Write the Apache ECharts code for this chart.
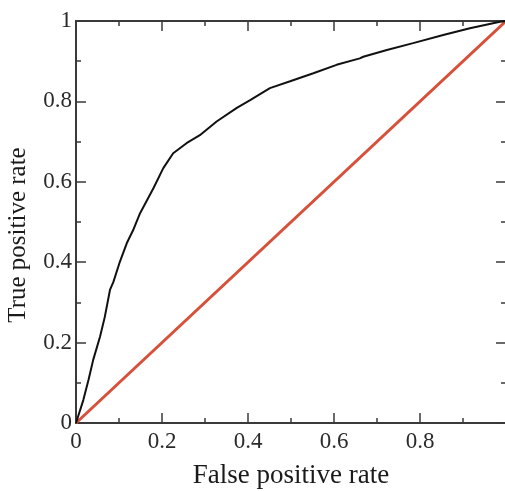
<!DOCTYPE html>
<html>
<head>
<meta charset="utf-8">
<title>ROC curve</title>
<script src="https://cdn.jsdelivr.net/npm/echarts@6/dist/echarts.min.js"></script>
<style>
  html, body { margin: 0; padding: 0; background: #fff; overflow: hidden; }
  #chart { width: 505px; height: 491px; }
</style>
</head>
<body>
<div id="chart"></div>
<script>
// ROC curve: false positive rate vs true positive rate
const fpr = [0, 0.017, 0.029, 0.040, 0.056, 0.067, 0.079, 0.087, 0.102, 0.118, 0.133,
  0.149, 0.180, 0.203, 0.226, 0.257, 0.288, 0.327, 0.374, 0.405, 0.451, 0.498,
  0.552, 0.606, 0.660, 0.668, 0.723, 0.784, 0.854, 0.916, 0.986, 1];
const tpr = [0, 0.057, 0.107, 0.157, 0.215, 0.264, 0.331, 0.351, 0.401, 0.447, 0.480,
  0.522, 0.584, 0.634, 0.671, 0.696, 0.716, 0.750, 0.784, 0.803, 0.833, 0.850,
  0.870, 0.891, 0.907, 0.911, 0.928, 0.945, 0.965, 0.982, 0.998, 1];
// chance line
const chanceX = [0, 1];
const chanceY = [0, 1];

const xTitle = 'False positive rate';
const yTitle = 'True positive rate';

const roc = fpr.map((v, i) => [v, tpr[i]]);
const chance = chanceX.map((v, i) => [v, chanceY[i]]);

const axisColor = '#3a3a3a';
const fontFamily = '"Liberation Serif", "Times New Roman", serif';

function frameAxis(extra) {
  return Object.assign({
    type: 'value',
    min: 0,
    max: 1,
    interval: 0.2,
    axisLine: { show: true, onZero: false, lineStyle: { color: axisColor, width: 2 } },
    axisTick: { show: true, inside: true, length: 10, lineStyle: { color: axisColor, width: 1.5 } },
    minorTick: { show: true, splitNumber: 2, length: 5, lineStyle: { color: axisColor, width: 1.5 } },
    splitLine: { show: false },
    minorSplitLine: { show: false },
    axisLabel: { show: false }
  }, extra);
}

const chart = echarts.init(document.getElementById('chart'));
chart.setOption({
  animation: false,
  backgroundColor: '#ffffff',
  grid: { left: 76, top: 21, width: 430, height: 402, containLabel: false, outerBoundsMode: 'none' },
  xAxis: [
    frameAxis({
      position: 'bottom',
      name: xTitle,
      nameLocation: 'middle',
      nameGap: 39,
      nameTextStyle: { fontFamily: fontFamily, fontSize: 27, color: '#1a1a1a' },
      axisLabel: {
        show: true,
        margin: 7,
        fontFamily: fontFamily,
        fontSize: 23,
        color: '#2a2a2a',
        formatter: v => (v === 1 ? '' : String(v))
      }
    }),
    frameAxis({ position: 'top' })
  ],
  yAxis: [
    frameAxis({
      position: 'left',
      name: yTitle,
      nameLocation: 'middle',
      nameGap: 45,
      nameRotate: 90,
      nameTextStyle: { fontFamily: fontFamily, fontSize: 25, color: '#1a1a1a', padding: [0, 26, 0, 0] },
      axisLabel: {
        show: true,
        margin: 4,
        fontFamily: fontFamily,
        fontSize: 23,
        color: '#2a2a2a',
        formatter: v => String(v)
      }
    }),
    frameAxis({ position: 'right' })
  ],
  series: [
    {
      type: 'line',
      data: chance,
      showSymbol: false,
      lineStyle: { color: '#d6503a', width: 3 },
      z: 2
    },
    {
      type: 'line',
      data: roc,
      showSymbol: false,
      lineStyle: { color: '#111111', width: 2 },
      z: 3
    }
  ]
});
</script>
</body>
</html>
